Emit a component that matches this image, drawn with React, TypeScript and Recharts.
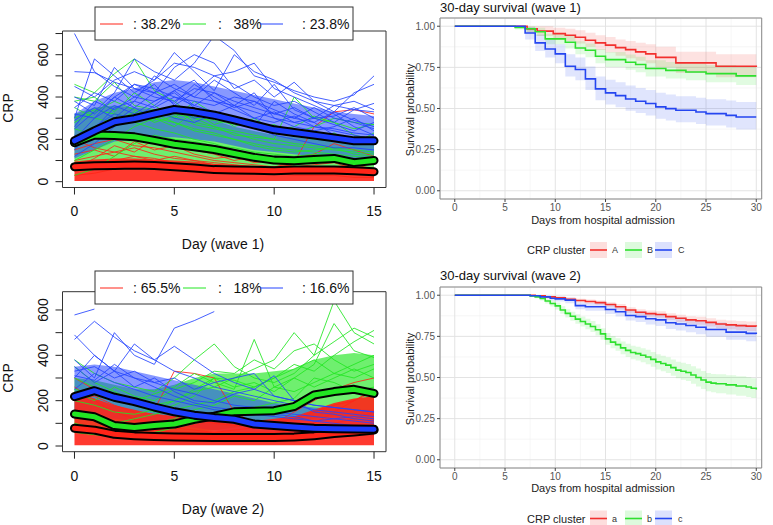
import React from "react";
import { Area, CartesianGrid, ComposedChart, Line, ReferenceArea, XAxis, YAxis } from "recharts";

const FONT = '"Liberation Sans", Arial, Helvetica, sans-serif';

// ---------- left panels: CRP trajectories by day ----------
const days = [0, 1, 2, 3, 4, 5, 6, 7, 8, 9, 10, 11, 12, 13, 14, 15];

// wave 1: dense cores of each cluster (low / high envelope per day)
const w1RedLo = [3, 3, 3, 3, 3, 3, 3, 3, 3, 3, 3, 3, 3, 3, 3, 3];
const w1RedHi = [95, 105, 110, 110, 105, 100, 95, 85, 80, 75, 70, 70, 70, 65, 65, 60];
const w1GreenLo = [70, 85, 90, 90, 85, 80, 70, 60, 55, 50, 45, 45, 45, 45, 40, 40];
const w1GreenHi = [320, 350, 360, 350, 340, 330, 310, 290, 260, 240, 220, 210, 200, 200, 190, 190];
const w1BlueLo = [110, 150, 190, 200, 210, 210, 200, 190, 170, 150, 140, 130, 120, 115, 110, 110];
const w1BlueHi = [320, 380, 420, 440, 470, 480, 470, 450, 430, 410, 390, 370, 350, 330, 320, 310];

// wave 1: individual trajectories
const w1RedLines = [
  [150, 180, 200, 170, 160, 140, 120, 100, 90, 80, 70, 80, 90, 100, 110, 90],
  [100, 120, 140, 160, 130, 110, 100, 90, 80, 70, 60, 60, 70, 60, 50, 40],
  [50, 80, 100, 120, 110, 90, 80, 70, 60, 60, 70, 90, 260, 330, 340, 320],
  [200, 160, 140, 120, 100, 90, 80, 60, 50, 40, 40, 50, 60, 70, 80, 60],
  [30, 40, 60, 80, 100, 120, 100, 80, 70, 50, 40, 30, 30, 30, 20, 20],
  [130, 150, 120, 190, 150, 170, 130, 110, 120, 90, 100, 110, 130, 180, 150, 120],
  [60, 110, 170, 140, 200, 160, 150, 130, 100, 120, 90, 70, 80, 90, 60, 50],
];
const w1GreenLines = [
  [460, 420, 510, 580, 430, 380, 300, 260, 240, 220, 200, 180, 170, 160, 150, 140],
  [400, 380, 470, 360, 340, 320, 300, 290, 270, 260, 240, 260, 310, 280, 250, 270],
  [350, 300, 280, 330, 280, 310, 270, 250, 230, 200, 180, 170, 160, 150, 140, 130],
  [100, 150, 200, 260, 300, 280, 250, 230, 200, 180, 160, 150, 140, 130, 120, 110],
  [30, 60, 120, 180, 220, 200, 190, 170, 160, 140, 130, 120, 130, 120, 100, 90],
  [300, 340, 320, 300, 290, 350, 280, 260, 220, 210, 200, 400, 300, 280, 220, 200],
  [200, 260, 300, 280, 250, 230, 200, 180, 150, 130, 120, 110, 100, 110, 90, 80],
  [250, 220, 280, 300, 320, 280, 240, 220, 200, 170, 150, 140, 150, 160, 130, 120],
  [380, 400, 330, 420, 360, 300, 380, 320, 260, 300, 240, 230, 260, 300, 280, 270],
  [280, 330, 380, 340, 300, 260, 330, 270, 300, 250, 270, 220, 200, 230, 180, 230],
];
const w1BlueLines = [
  [700, 520, 450, 400, 380, 430, 360, 330, 300, 280, 250, 240, 230, 210, 200, 190],
  [520, 515, 470, 440, 420, 460, 400, 380, 360, 330, 300, 280, 260, 250, 230, 220],
  [300, 580, 500, 420, 480, 610, 520, 430, 600, 520, 480, 420, 380, 360, 340, 330],
  [250, 330, 420, 580, 520, 480, 560, 690, 620, 500, 470, 430, 400, 380, 410, 500],
  [200, 300, 400, 460, 420, 540, 600, 560, 440, 480, 400, 470, 380, 330, 290, 260],
  [150, 250, 350, 380, 500, 440, 400, 480, 420, 360, 460, 340, 300, 360, 380, 340],
  [350, 420, 380, 460, 440, 400, 380, 360, 400, 380, 340, 300, 280, 330, 420, 460],
  [180, 260, 320, 300, 360, 430, 480, 380, 340, 300, 280, 310, 260, 240, 220, 200],
  [400, 360, 540, 440, 400, 380, 440, 420, 380, 350, 320, 300, 350, 300, 280, 250],
  [260, 380, 340, 400, 460, 360, 420, 500, 460, 400, 360, 380, 330, 280, 340, 370],
  [220, 200, 280, 350, 300, 340, 300, 320, 360, 420, 300, 260, 240, 260, 300, 240],
  [320, 300, 360, 320, 380, 420, 350, 300, 280, 260, 380, 320, 280, 220, 200, 180],
  [120, 180, 260, 300, 340, 300, 280, 320, 300, 260, 220, 200, 180, 160, 160, 150],
  [450, 400, 480, 520, 480, 560, 540, 500, 520, 560, 440, 400, 360, 320, 260, 220],
  [290, 350, 300, 380, 350, 400, 360, 420, 360, 300, 330, 280, 300, 270, 240, 280],
  [380, 320, 400, 350, 420, 370, 460, 400, 350, 380, 320, 350, 300, 310, 350, 300],
];
const w1RedMean = [71, 75, 77, 79, 77, 71, 65, 57, 55, 54, 52, 55, 55, 55, 52, 47];
const w1GreenMean = [184, 220, 218, 212, 195, 177, 165, 152, 133, 115, 102, 99, 105, 110, 90, 100];
const w1BlueMean = [193, 240, 283, 298, 320, 341, 330, 314, 292, 268, 245, 232, 220, 207, 193, 193];
const w1Shares = [": 38.2%", ":   38%", ": 23.8%"];

// wave 2
const w2RedLo = [3, 3, 3, 3, 3, 3, 3, 3, 3, 3, 3, 3, 3, 3, 3, 3];
const w2RedHi = [230, 210, 180, 160, 140, 130, 120, 110, 110, 110, 120, 130, 160, 190, 210, 220];
const w2GreenLo = [60, 50, 40, 40, 40, 50, 60, 70, 80, 90, 100, 110, 120, 130, 130, 130];
const w2GreenHi = [300, 290, 270, 250, 250, 270, 300, 320, 320, 320, 330, 340, 380, 400, 410, 400];
const w2BlueLo = [120, 130, 120, 110, 100, 90, 80, 70, 60, 55, 50, 50, 45, 45, 45, 45];
const w2BlueHi = [350, 360, 350, 330, 310, 290, 270, 250, 230, 210, 190, 180, 170, 165, 160, 160];

const w2RedLines = [
  [300, 250, 200, 180, 160, 330, 320, 300, 150, 100, 90, 80, 100, 150, 200, 250],
  [200, 220, 180, 150, 140, 130, 120, 100, 90, 90, 100, 120, 150, 180, 200, 240],
  [150, 120, 100, 80, 70, 60, 60, 60, 70, 80, 100, 150, 200, 250, 280, 300],
  [260, 200, 150, 120, 100, 80, 70, 60, 60, 60, 60, 70, 80, 100, 120, 150],
];
const w2GreenLines = [
  [380, 320, 280, 260, 240, 300, 380, 450, 350, 300, 280, 320, 400, 640, 500, 450],
  [200, 180, 150, 140, 160, 200, 240, 260, 300, 340, 380, 500, 400, 460, 520, 480],
  [250, 230, 200, 180, 150, 180, 220, 300, 260, 280, 240, 300, 360, 540, 420, 390],
  [150, 140, 100, 120, 140, 160, 180, 200, 240, 260, 300, 340, 380, 320, 360, 400],
  [100, 80, 60, 80, 100, 120, 160, 180, 220, 200, 260, 300, 260, 300, 340, 300],
  [300, 260, 220, 200, 230, 260, 320, 280, 250, 470, 260, 240, 280, 320, 300, 340],
  [60, 50, 40, 50, 60, 80, 100, 120, 150, 170, 190, 210, 300, 280, 240, 260],
  [350, 280, 240, 200, 180, 200, 250, 300, 290, 260, 300, 360, 330, 400, 460, 510],
  [240, 200, 260, 220, 200, 250, 280, 330, 320, 380, 340, 420, 450, 380, 330, 360],
];
const w2BlueLines = [
  [578, 604, null, null, null, null, null, null, null, null, null, null, null, null, null, null],
  [490, 400, 330, 300, 280, 250, 230, 200, 180, 170, 150, 140, 130, 120, 110, 100],
  [470, 550, 480, 420, 380, 330, 300, 260, 240, 220, 200, 180, 160, 150, 140, 130],
  [380, 300, 500, 400, 360, 520, 553, 593, null, null, null, null, null, null, null, null],
  [300, 400, 330, 450, 380, 440, 380, 320, 280, 250, 220, 200, 180, 170, 160, 150],
  [330, 350, 300, 330, 280, 300, 250, 280, 300, 320, 220, 200, 180, 170, 160, 150],
  [250, 320, 280, 250, 220, 200, 180, 160, 150, 140, 130, 120, 110, 120, 130, 120],
  [350, 280, 330, 260, 300, 240, 200, 190, 230, 250, 310, 200, 150, 140, 120, 110],
  [200, 260, 220, 200, 180, 160, 140, 120, 100, 90, 80, 70, 60, 70, 80, 90],
  [310, 290, 360, 300, 260, 220, 190, 170, 160, 150, 140, 130, 110, 100, 90, 80],
];
const w2RedMean = [78, 70, 52, 45, 42, 40, 39, 38, 38, 38, 38, 40, 45, 55, 62, 70];
const w2GreenMean = [141, 129, 90, 82, 90, 97, 118, 132, 151, 153, 156, 174, 225, 240, 250, 232];
const w2BlueMean = [218, 244, 215, 196, 172, 151, 136, 126, 118, 97, 90, 84, 78, 76, 75, 74];
const w2Shares = [": 65.5%", ":   18%", ": 16.6%"];

// ---------- right panels: Kaplan-Meier survival ----------
const w1ATimes = [0, 7.2, 8.2, 9.8, 11, 12, 13, 14, 15, 16, 17, 18, 19, 20, 22, 26, 30];
const w1ASurv = [1, 0.984, 0.97, 0.955, 0.945, 0.933, 0.915, 0.899, 0.885, 0.87, 0.858, 0.844, 0.832, 0.811, 0.777, 0.757, 0.752];
const w1ALower = [1, 0.96, 0.94, 0.92, 0.91, 0.895, 0.875, 0.855, 0.84, 0.82, 0.805, 0.79, 0.775, 0.75, 0.715, 0.69, 0.685];
const w1AUpper = [1, 1, 1, 0.99, 0.985, 0.975, 0.96, 0.945, 0.935, 0.92, 0.91, 0.9, 0.89, 0.875, 0.845, 0.83, 0.825];

const w1BTimes = [0, 6, 7, 8, 9, 11, 12, 13, 14, 15, 17, 18, 19, 21, 23, 25, 28, 30];
const w1BSurv = [1, 0.993, 0.985, 0.966, 0.923, 0.903, 0.868, 0.854, 0.818, 0.797, 0.781, 0.767, 0.743, 0.732, 0.722, 0.712, 0.698, 0.698];
const w1BLower = [1, 0.98, 0.965, 0.94, 0.89, 0.865, 0.83, 0.812, 0.775, 0.752, 0.735, 0.72, 0.695, 0.683, 0.672, 0.66, 0.643, 0.64];
const w1BUpper = [1, 1, 1, 0.99, 0.955, 0.94, 0.908, 0.895, 0.862, 0.843, 0.828, 0.815, 0.793, 0.783, 0.773, 0.765, 0.755, 0.755];

const w1CTimes = [0, 7, 8, 9, 10, 11, 12, 13, 14, 15, 16, 17, 18, 19, 20, 21, 22, 24, 25, 27, 28, 30];
const w1CSurv = [1, 0.959, 0.899, 0.862, 0.832, 0.757, 0.737, 0.68, 0.619, 0.595, 0.578, 0.558, 0.544, 0.53, 0.51, 0.499, 0.489, 0.479, 0.469, 0.458, 0.448, 0.448];
const w1CLower = [1, 0.92, 0.85, 0.81, 0.775, 0.695, 0.672, 0.612, 0.55, 0.525, 0.507, 0.487, 0.472, 0.458, 0.438, 0.427, 0.417, 0.406, 0.396, 0.385, 0.372, 0.365];
const w1CUpper = [1, 0.995, 0.95, 0.92, 0.89, 0.83, 0.81, 0.755, 0.695, 0.675, 0.66, 0.64, 0.625, 0.612, 0.595, 0.585, 0.575, 0.565, 0.556, 0.548, 0.54, 0.54];

const w2ATimes = [0, 8, 9, 10, 11, 12, 13, 14, 15, 16, 17, 18, 19, 20, 21, 22, 23, 24, 25, 26, 27, 28, 29, 30];
const w2ASurv = [1, 0.997, 0.99, 0.985, 0.975, 0.968, 0.962, 0.955, 0.944, 0.93, 0.91, 0.897, 0.888, 0.883, 0.87, 0.86, 0.85, 0.845, 0.835, 0.825, 0.82, 0.815, 0.812, 0.81];
const w2ALower = [1, 0.994, 0.985, 0.978, 0.966, 0.958, 0.95, 0.942, 0.93, 0.914, 0.893, 0.879, 0.869, 0.863, 0.849, 0.838, 0.827, 0.821, 0.81, 0.799, 0.793, 0.787, 0.783, 0.78];
const w2AUpper = [1, 1, 0.995, 0.992, 0.984, 0.978, 0.974, 0.968, 0.958, 0.946, 0.927, 0.915, 0.907, 0.903, 0.891, 0.882, 0.873, 0.869, 0.86, 0.851, 0.847, 0.843, 0.841, 0.84];

const w2BTimes = [0, 7.5, 8, 8.5, 9, 9.5, 10, 10.5, 11, 11.5, 12, 12.5, 13, 13.5, 14, 14.5, 15, 15.5, 16, 16.5, 17, 17.5, 18, 18.5, 19, 19.5, 20, 20.5, 21, 21.5, 22, 22.5, 23, 23.5, 24, 24.5, 25, 25.5, 26, 27, 28, 29, 29.5, 30];
const w2BSurv = [1, 0.995, 0.99, 0.98, 0.965, 0.95, 0.935, 0.91, 0.89, 0.872, 0.855, 0.84, 0.825, 0.81, 0.79, 0.765, 0.735, 0.715, 0.7, 0.68, 0.665, 0.652, 0.645, 0.635, 0.625, 0.61, 0.595, 0.585, 0.575, 0.56, 0.545, 0.538, 0.53, 0.515, 0.5, 0.485, 0.472, 0.466, 0.462, 0.455, 0.448, 0.442, 0.435, 0.427];
const w2BLower = [1, 0.99, 0.982, 0.968, 0.95, 0.932, 0.914, 0.887, 0.865, 0.845, 0.826, 0.81, 0.793, 0.777, 0.756, 0.73, 0.699, 0.678, 0.662, 0.641, 0.625, 0.611, 0.603, 0.592, 0.581, 0.565, 0.549, 0.538, 0.527, 0.511, 0.495, 0.487, 0.478, 0.462, 0.446, 0.43, 0.416, 0.41, 0.405, 0.397, 0.389, 0.382, 0.375, 0.366];
const w2BUpper = [1, 1, 0.998, 0.992, 0.98, 0.968, 0.956, 0.933, 0.915, 0.899, 0.884, 0.87, 0.857, 0.843, 0.824, 0.8, 0.771, 0.752, 0.738, 0.719, 0.705, 0.693, 0.687, 0.678, 0.669, 0.655, 0.641, 0.632, 0.623, 0.609, 0.595, 0.589, 0.582, 0.568, 0.554, 0.54, 0.528, 0.522, 0.519, 0.513, 0.507, 0.502, 0.495, 0.488];

const w2CTimes = [0, 7.5, 8.5, 9.5, 10, 11, 12, 13, 15, 16, 17, 18, 19, 20, 21, 22, 23, 24, 25, 27, 29, 30];
const w2CSurv = [1, 0.997, 0.99, 0.982, 0.978, 0.97, 0.937, 0.93, 0.913, 0.9, 0.877, 0.87, 0.857, 0.85, 0.833, 0.825, 0.816, 0.805, 0.792, 0.776, 0.768, 0.765];
const w2CLower = [1, 0.99, 0.98, 0.968, 0.962, 0.952, 0.915, 0.906, 0.886, 0.871, 0.846, 0.837, 0.822, 0.813, 0.795, 0.786, 0.775, 0.763, 0.748, 0.73, 0.72, 0.712];
const w2CUpper = [1, 1, 0.998, 0.994, 0.992, 0.986, 0.958, 0.953, 0.94, 0.928, 0.908, 0.902, 0.891, 0.886, 0.871, 0.864, 0.856, 0.847, 0.835, 0.822, 0.815, 0.813];

const kmXTicks = [0, 5, 10, 15, 20, 25, 30];
const kmYTicks = [0, 0.25, 0.5, 0.75, 1];
const kmMinorX = [2.5, 7.5, 12.5, 17.5, 22.5, 27.5];
const kmMinorY = [0.125, 0.375, 0.625, 0.875];

const RED = "#ff2418";
const GREEN = "#22e622";
const BLUE = "#2444ff";
const KM_RED = "#f2302e";
const KM_GREEN = "#2ee02e";
const KM_BLUE = "#2546f0";

function buildRows(w: any) {
  return days.map((d, i) => {
    const row: any = { day: d };
    row.redBand = [w.redLo[i], w.redHi[i]];
    row.greenBand = [w.greenLo[i], w.greenHi[i]];
    row.blueBand = [w.blueLo[i], w.blueHi[i]];
    w.redLines.forEach((l: any[], k: number) => (row["r" + k] = l[i]));
    w.greenLines.forEach((l: any[], k: number) => (row["g" + k] = l[i]));
    w.blueLines.forEach((l: any[], k: number) => (row["b" + k] = l[i]));
    row.mRed = w.redMean[i];
    row.mGreen = w.greenMean[i];
    row.mBlue = w.blueMean[i];
    return row;
  });
}

function RTick(props: any) {
  const { x, y, payload } = props;
  // R drops labels that would overlap, only every other one is shown
  if (payload.value % 200 !== 0) return <g />;
  return (
    <text x={x} y={y} transform={`rotate(-90, ${x}, ${y})`} textAnchor="middle" fontSize={14} fill="#111" fontFamily={FONT}>
      {payload.value}
    </text>
  );
}

function SpaghettiChart({ w, top, height, marginTop, marginBottom, yDomain, yTicks }: any) {
  const rows = buildRows(w);
  const thin = (key: string, color: string) => (
    <Line key={key} dataKey={key} stroke={color} strokeWidth={1} strokeOpacity={0.85} dot={false} isAnimationActive={false} />
  );
  const mean = (key: string, color: string) => [
    <Line key={key + "o"} dataKey={key} stroke="#000" strokeWidth={9} strokeLinecap="round" strokeLinejoin="round" dot={false} isAnimationActive={false} />,
    <Line key={key + "c"} dataKey={key} stroke={color} strokeWidth={5} strokeLinecap="round" strokeLinejoin="round" dot={false} isAnimationActive={false} />,
  ];
  return (
    <div style={{ position: "absolute", left: 0, top }}>
      <ComposedChart width={390} height={height} data={rows} margin={{ top: marginTop, right: 4, bottom: marginBottom, left: 0 }}>
        <XAxis
          dataKey="day"
          type="number"
          domain={[-0.6, 15.6]}
          ticks={[0, 5, 10, 15]}
          interval={0}
          allowDataOverflow
          axisLine={false}
          tickSize={7}
          tickMargin={12}
          height={30}
          tickLine={{ stroke: "#222" }}
          tick={{ fontSize: 14, fill: "#111", fontFamily: FONT }}
        />
        <YAxis
          type="number"
          domain={yDomain}
          ticks={yTicks}
          interval={0}
          allowDataOverflow
          width={62.5}
          axisLine={false}
          tickSize={7}
          tickMargin={7}
          tickLine={{ stroke: "#222" }}
          tick={<RTick />}
        />
        <Area dataKey="greenBand" stroke="none" fill={GREEN} fillOpacity={0.65} isAnimationActive={false} />
        <Area dataKey="blueBand" stroke="none" fill={BLUE} fillOpacity={0.55} isAnimationActive={false} />
        <Area dataKey="redBand" stroke="none" fill={RED} fillOpacity={0.9} isAnimationActive={false} />
        {w.redLines.map((_: any, k: number) => thin("r" + k, RED))}
        {w.greenLines.map((_: any, k: number) => thin("g" + k, GREEN))}
        {w.blueLines.map((_: any, k: number) => thin("b" + k, BLUE))}
        {mean("mRed", RED)}
        {mean("mGreen", GREEN)}
        {mean("mBlue", "#1a3cff")}
        <ReferenceArea x1={-0.6} x2={15.6} y1={yDomain[0]} y2={yDomain[1]} fill="none" stroke="#333" strokeWidth={1} />
      </ComposedChart>
    </div>
  );
}

function kmRows(times: number[], surv: number[], lower: number[], upper: number[]) {
  return times.map((t, i) => ({ t, s: surv[i], band: [lower[i], upper[i]] }));
}

function KmChart({ curves, top, height, marginTop, marginBottom }: any) {
  return (
    <div style={{ position: "absolute", left: 390, top }}>
      <ComposedChart width={383} height={height} margin={{ top: marginTop, right: 11.3, bottom: marginBottom, left: 0 }}>
        <CartesianGrid stroke="#f0f0f0" strokeWidth={0.6} horizontalValues={kmMinorY} verticalValues={kmMinorX} />
        <CartesianGrid stroke="#e3e3e3" strokeWidth={1} />
        <XAxis
          dataKey="t"
          type="number"
          domain={[-1.47, 30.54]}
          ticks={kmXTicks}
          interval={0}
          allowDataOverflow
          axisLine={false}
          tickSize={3}
          tickMargin={2}
          height={30}
          tickLine={{ stroke: "#444" }}
          tick={{ fontSize: 10, fill: "#555", fontFamily: FONT }}
        />
        <YAxis
          type="number"
          domain={[-0.05, 1.05]}
          ticks={kmYTicks}
          interval={0}
          allowDataOverflow
          width={50}
          axisLine={false}
          tickSize={3}
          tickMargin={2}
          tickLine={{ stroke: "#444" }}
          tickFormatter={(v: number) => v.toFixed(2)}
          tick={{ fontSize: 10, fill: "#555", fontFamily: FONT }}
        />
        {curves.map((c: any) => (
          <Area key={c.name + "band"} data={c.rows} dataKey="band" type="stepAfter" stroke="none" fill={c.color} fillOpacity={0.14} isAnimationActive={false} />
        ))}
        {curves.map((c: any) => (
          <Line key={c.name} data={c.rows} dataKey="s" type="stepAfter" stroke={c.color} strokeWidth={1.6} dot={false} isAnimationActive={false} />
        ))}
        <ReferenceArea x1={-1.47} x2={30.54} y1={-0.05} y2={1.05} fill="none" stroke="#8c8c8c" strokeWidth={1} />
      </ComposedChart>
    </div>
  );
}

function RLegend({ y, labels }: any) {
  const segX = [100, 183, 260];
  const txtX = [133, 218, 302];
  const colors = [RED, GREEN, BLUE];
  return (
    <g>
      <rect x={95} y={y - 17} width={258} height={33} fill="#fff" stroke="#333" strokeWidth={1} />
      {labels.map((l: string, i: number) => (
        <g key={i}>
          <line x1={segX[i]} x2={segX[i] + 23} y1={y} y2={y} stroke={colors[i]} strokeWidth={1} />
          <text x={txtX[i]} y={y + 5} fontSize={14} fill="#111" style={{ whiteSpace: "pre" }}>
            {l}
          </text>
        </g>
      ))}
    </g>
  );
}

function KmLegend({ y, letters }: any) {
  const keyX = [590, 625, 655];
  const letX = [612, 647, 678];
  const colors = [KM_RED, KM_GREEN, KM_BLUE];
  return (
    <g>
      <text x={527} y={y + 4} fontSize={11} fill="#222">
        CRP cluster
      </text>
      {letters.map((l: string, i: number) => (
        <g key={l}>
          <rect x={keyX[i]} y={y - 8} width={17} height={16} fill={colors[i]} fillOpacity={0.16} />
          <line x1={keyX[i]} x2={keyX[i] + 17} y1={y} y2={y} stroke={colors[i]} strokeWidth={1.6} />
          <text x={letX[i]} y={y + 3} fontSize={9} fill="#333">
            {l}
          </text>
        </g>
      ))}
    </g>
  );
}

export default function App() {
  const w1 = {
    redLo: w1RedLo, redHi: w1RedHi, greenLo: w1GreenLo, greenHi: w1GreenHi, blueLo: w1BlueLo, blueHi: w1BlueHi,
    redLines: w1RedLines, greenLines: w1GreenLines, blueLines: w1BlueLines,
    redMean: w1RedMean, greenMean: w1GreenMean, blueMean: w1BlueMean,
  };
  const w2 = {
    redLo: w2RedLo, redHi: w2RedHi, greenLo: w2GreenLo, greenHi: w2GreenHi, blueLo: w2BlueLo, blueHi: w2BlueHi,
    redLines: w2RedLines, greenLines: w2GreenLines, blueLines: w2BlueLines,
    redMean: w2RedMean, greenMean: w2GreenMean, blueMean: w2BlueMean,
  };
  const km1 = [
    { name: "A", color: KM_RED, rows: kmRows(w1ATimes, w1ASurv, w1ALower, w1AUpper) },
    { name: "B", color: KM_GREEN, rows: kmRows(w1BTimes, w1BSurv, w1BLower, w1BUpper) },
    { name: "C", color: KM_BLUE, rows: kmRows(w1CTimes, w1CSurv, w1CLower, w1CUpper) },
  ];
  const km2 = [
    { name: "a", color: KM_RED, rows: kmRows(w2ATimes, w2ASurv, w2ALower, w2AUpper) },
    { name: "b", color: KM_GREEN, rows: kmRows(w2BTimes, w2BSurv, w2BLower, w2BUpper) },
    { name: "c", color: KM_BLUE, rows: kmRows(w2CTimes, w2CSurv, w2CLower, w2CUpper) },
  ];

  return (
    <div style={{ position: "absolute", left: 0, top: 0, width: 773, height: 525, background: "#fff", fontFamily: FONT, overflow: "hidden" }}>
      <SpaghettiChart w={w1} top={0} height={260} marginTop={31} marginBottom={42.5} yDomain={[-27.5, 712]} yTicks={[0, 100, 200, 300, 400, 500, 600, 700]} />
      <SpaghettiChart w={w2} top={260} height={265} marginTop={31.7} marginBottom={43.3} yDomain={[-25.1, 680.6]} yTicks={[0, 100, 200, 300, 400, 500, 600]} />
      <KmChart curves={km1} top={0} height={260} marginTop={18} marginBottom={31} />
      <KmChart curves={km2} top={260} height={265} marginTop={27} marginBottom={27} />

      <svg width={773} height={525} style={{ position: "absolute", left: 0, top: 0, pointerEvents: "none" }} fontFamily={FONT}>
        <RLegend y={24} labels={w1Shares} />
        <RLegend y={288} labels={w2Shares} />
        <text x={13} y={108} transform="rotate(-90, 13, 108)" textAnchor="middle" fontSize={14} fill="#111">CRP</text>
        <text x={13} y={378} transform="rotate(-90, 13, 378)" textAnchor="middle" fontSize={14} fill="#111">CRP</text>
        <text x={223} y={249} textAnchor="middle" fontSize={14} fill="#111">Day (wave 1)</text>
        <text x={223} y={514} textAnchor="middle" fontSize={14} fill="#111">Day (wave 2)</text>

        <text x={440} y={11.5} fontSize={13} fill="#111">30-day survival (wave 1)</text>
        <text x={440} y={279.5} fontSize={13} fill="#111">30-day survival (wave 2)</text>
        <text x={414} y={110} transform="rotate(-90, 414, 110)" textAnchor="middle" fontSize={11} fill="#222">Survival probability</text>
        <text x={414} y={379} transform="rotate(-90, 414, 379)" textAnchor="middle" fontSize={11} fill="#222">Survival probability</text>
        <text x={603} y={224} textAnchor="middle" fontSize={11} fill="#222">Days from hospital admission</text>
        <text x={603} y={492} textAnchor="middle" fontSize={11} fill="#222">Days from hospital admission</text>
        <KmLegend y={250} letters={["A", "B", "C"]} />
        <KmLegend y={518.5} letters={["a", "b", "c"]} />
      </svg>
    </div>
  );
}
